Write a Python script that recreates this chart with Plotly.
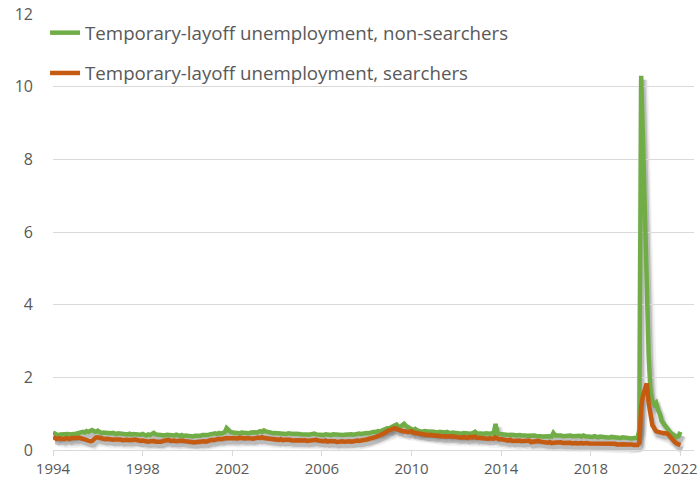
import pandas as pd
import plotly.graph_objects as go

# monthly, Jan 1994 .. Jan 2022 (percent of labor force)
months = pd.date_range("1994-01-01", "2022-01-01", freq="MS")

non_searchers = [
    0.48, 0.45, 0.42, 0.40, 0.43, 0.44, 0.42, 0.45, 0.44, 0.43, 0.45, 0.44,  # 1994
    0.44, 0.46, 0.45, 0.47, 0.50, 0.48, 0.52, 0.50, 0.54, 0.55, 0.52, 0.50,  # 1995
    0.53, 0.47, 0.46, 0.48, 0.47, 0.45, 0.44, 0.46, 0.47, 0.45, 0.44, 0.46,  # 1996
    0.45, 0.44, 0.46, 0.44, 0.43, 0.45, 0.42, 0.44, 0.43, 0.41, 0.43, 0.42,  # 1997
    0.44, 0.42, 0.40, 0.43, 0.41, 0.44, 0.47, 0.43, 0.42, 0.44, 0.41, 0.42,  # 1998
    0.40, 0.42, 0.41, 0.39, 0.41, 0.40, 0.42, 0.40, 0.39, 0.41, 0.38, 0.40,  # 1999
    0.39, 0.38, 0.40, 0.37, 0.39, 0.38, 0.40, 0.39, 0.41, 0.40, 0.42, 0.41,  # 2000
    0.43, 0.45, 0.44, 0.46, 0.44, 0.47, 0.45, 0.46, 0.49, 0.60, 0.54, 0.50,  # 2001
    0.48, 0.47, 0.49, 0.48, 0.46, 0.48, 0.47, 0.49, 0.48, 0.46, 0.48, 0.50,  # 2002
    0.49, 0.48, 0.50, 0.52, 0.50, 0.54, 0.51, 0.49, 0.48, 0.47, 0.46, 0.47,  # 2003
    0.46, 0.45, 0.46, 0.44, 0.45, 0.44, 0.46, 0.45, 0.43, 0.44, 0.45, 0.43,  # 2004
    0.44, 0.43, 0.42, 0.44, 0.43, 0.42, 0.44, 0.43, 0.45, 0.43, 0.42, 0.43,  # 2005
    0.42, 0.41, 0.43, 0.42, 0.40, 0.41, 0.43, 0.42, 0.41, 0.40, 0.42, 0.41,  # 2006
    0.42, 0.43, 0.41, 0.44, 0.43, 0.42, 0.44, 0.43, 0.45, 0.44, 0.46, 0.45,  # 2007
    0.47, 0.46, 0.48, 0.47, 0.50, 0.49, 0.52, 0.51, 0.54, 0.56, 0.58, 0.60,  # 2008
    0.60, 0.62, 0.64, 0.66, 0.70, 0.64, 0.63, 0.68, 0.72, 0.66, 0.62, 0.60,  # 2009
    0.57, 0.55, 0.58, 0.54, 0.52, 0.53, 0.50, 0.52, 0.51, 0.49, 0.50, 0.51,  # 2010
    0.49, 0.50, 0.48, 0.50, 0.49, 0.47, 0.48, 0.50, 0.47, 0.46, 0.48, 0.47,  # 2011
    0.46, 0.48, 0.46, 0.45, 0.47, 0.46, 0.44, 0.46, 0.45, 0.47, 0.50, 0.46,  # 2012
    0.45, 0.46, 0.44, 0.45, 0.46, 0.44, 0.45, 0.46, 0.45, 0.72, 0.47, 0.44,  # 2013
    0.43, 0.44, 0.42, 0.43, 0.41, 0.42, 0.43, 0.41, 0.40, 0.42, 0.41, 0.40,  # 2014
    0.41, 0.40, 0.39, 0.40, 0.38, 0.39, 0.40, 0.38, 0.39, 0.38, 0.37, 0.38,  # 2015
    0.39, 0.37, 0.38, 0.37, 0.47, 0.40, 0.41, 0.39, 0.40, 0.38, 0.39, 0.40,  # 2016
    0.39, 0.40, 0.38, 0.39, 0.37, 0.38, 0.39, 0.37, 0.40, 0.38, 0.37, 0.36,  # 2017
    0.37, 0.36, 0.38, 0.36, 0.35, 0.37, 0.36, 0.35, 0.37, 0.35, 0.34, 0.36,  # 2018
    0.35, 0.34, 0.36, 0.34, 0.33, 0.35, 0.34, 0.33, 0.35, 0.34, 0.32, 0.33,  # 2019
    0.34, 0.33, 0.55, 10.3, 8.5, 6.2, 4.3, 2.6, 1.6, 1.35, 1.25, 1.30,      # 2020
    1.10, 1.00, 0.80, 0.72, 0.65, 0.58, 0.50, 0.46, 0.43, 0.41, 0.36, 0.38,  # 2021
    0.50,                                                                    # 2022
]

searchers = [
    0.36, 0.34, 0.30, 0.32, 0.33, 0.31, 0.30, 0.33, 0.32, 0.30, 0.33, 0.32,  # 1994
    0.31, 0.33, 0.34, 0.32, 0.31, 0.30, 0.28, 0.26, 0.24, 0.25, 0.30, 0.34,  # 1995
    0.35, 0.33, 0.34, 0.32, 0.30, 0.31, 0.29, 0.30, 0.28, 0.29, 0.30, 0.28,  # 1996
    0.29, 0.27, 0.28, 0.30, 0.28, 0.27, 0.26, 0.28, 0.29, 0.27, 0.26, 0.25,  # 1997
    0.26, 0.24, 0.25, 0.23, 0.24, 0.26, 0.25, 0.23, 0.22, 0.24, 0.23, 0.25,  # 1998
    0.27, 0.26, 0.28, 0.25, 0.27, 0.26, 0.24, 0.25, 0.27, 0.26, 0.25, 0.24,  # 1999
    0.23, 0.24, 0.22, 0.23, 0.21, 0.22, 0.23, 0.21, 0.22, 0.24, 0.23, 0.25,  # 2000
    0.26, 0.28, 0.27, 0.29, 0.30, 0.31, 0.30, 0.32, 0.31, 0.33, 0.32, 0.31,  # 2001
    0.32, 0.33, 0.31, 0.32, 0.34, 0.33, 0.31, 0.32, 0.33, 0.34, 0.32, 0.31,  # 2002
    0.33, 0.32, 0.34, 0.33, 0.35, 0.33, 0.32, 0.31, 0.30, 0.31, 0.29, 0.30,  # 2003
    0.29, 0.28, 0.30, 0.27, 0.28, 0.29, 0.27, 0.28, 0.26, 0.27, 0.28, 0.26,  # 2004
    0.27, 0.26, 0.28, 0.27, 0.25, 0.26, 0.27, 0.25, 0.26, 0.28, 0.26, 0.25,  # 2005
    0.25, 0.24, 0.26, 0.23, 0.24, 0.25, 0.23, 0.24, 0.22, 0.23, 0.25, 0.24,  # 2006
    0.23, 0.24, 0.22, 0.24, 0.23, 0.25, 0.24, 0.26, 0.25, 0.27, 0.26, 0.28,  # 2007
    0.29, 0.30, 0.32, 0.33, 0.35, 0.36, 0.38, 0.40, 0.42, 0.45, 0.48, 0.52,  # 2008
    0.55, 0.57, 0.58, 0.60, 0.59, 0.56, 0.54, 0.52, 0.53, 0.51, 0.49, 0.50,  # 2009
    0.52, 0.48, 0.47, 0.48, 0.46, 0.45, 0.44, 0.42, 0.43, 0.41, 0.42, 0.40,  # 2010
    0.41, 0.39, 0.40, 0.38, 0.39, 0.37, 0.38, 0.36, 0.37, 0.38, 0.36, 0.37,  # 2011
    0.36, 0.35, 0.37, 0.34, 0.36, 0.35, 0.33, 0.36, 0.34, 0.35, 0.37, 0.33,  # 2012
    0.34, 0.33, 0.35, 0.32, 0.33, 0.31, 0.32, 0.30, 0.31, 0.35, 0.30, 0.29,  # 2013
    0.30, 0.28, 0.29, 0.27, 0.26, 0.28, 0.25, 0.26, 0.24, 0.25, 0.26, 0.24,  # 2014
    0.25, 0.23, 0.24, 0.26, 0.22, 0.23, 0.24, 0.22, 0.25, 0.23, 0.22, 0.23,  # 2015
    0.21, 0.20, 0.22, 0.19, 0.20, 0.21, 0.19, 0.20, 0.21, 0.19, 0.20, 0.18,  # 2016
    0.19, 0.20, 0.18, 0.20, 0.19, 0.18, 0.20, 0.19, 0.18, 0.20, 0.19, 0.18,  # 2017
    0.18, 0.19, 0.17, 0.18, 0.19, 0.17, 0.18, 0.16, 0.17, 0.18, 0.16, 0.17,  # 2018
    0.16, 0.17, 0.15, 0.16, 0.17, 0.15, 0.16, 0.15, 0.16, 0.14, 0.15, 0.14,  # 2019
    0.15, 0.14, 0.20, 1.20, 1.50, 1.70, 1.83, 1.30, 0.96, 0.68, 0.60, 0.52,  # 2020
    0.50, 0.48, 0.47, 0.46, 0.46, 0.45, 0.40, 0.33, 0.27, 0.22, 0.18, 0.15,  # 2021
    0.13,                                                                    # 2022
]

year_ticks = ["1994", "1998", "2002", "2006", "2010", "2014", "2018", "2022"]
y_ticks = [0, 2, 4, 6, 8, 10, 12]

names = ["Temporary-layoff unemployment, non-searchers",
         "Temporary-layoff unemployment, searchers"]
colors = ["#70ad47", "#c55a11"]
series = [non_searchers, searchers]

W, H = 700, 483
L, R, T, B = 53, 0, 14, 29
pw, ph = W - L - R, H - T - B
dx, dy = 2 / pw, 4 / ph   # shadow offset in paper units
xr = ["1994-01-01", "2022-08-10"]

fig = go.Figure()

# soft drop shadow (Excel style) drawn on an offset pair of hidden axes
for vals in series:
    for w, a in [(10, 0.05), (7, 0.09), (4.5, 0.15)]:
        fig.add_trace(go.Scatter(
            x=months, y=vals, xaxis="x", yaxis="y", mode="lines",
            line=dict(color=f"rgba(0,0,0,{a})", width=w),
            hoverinfo="skip", showlegend=False))

for name, vals, c in zip(names, series, colors):
    fig.add_trace(go.Scatter(
        x=months, y=vals, xaxis="x2", yaxis="y2", mode="lines", name=name,
        legendgroup=name, line=dict(color=c, width=4.5)))

fig.update_layout(
    width=W, height=H,
    margin=dict(l=L, r=R, t=T, b=B),
    plot_bgcolor="rgba(0,0,0,0)", paper_bgcolor="white",
    font=dict(family="Open Sans", color="#595959"),
    xaxis=dict(domain=[dx, 1], range=xr, visible=False, anchor="y"),
    yaxis=dict(domain=[0, 1 - dy], range=[0, 12], visible=False, anchor="x"),
    xaxis2=dict(
        domain=[0, 1 - dx], range=xr, anchor="y2",
        tickvals=[f"{y}-01-01" for y in year_ticks], ticktext=year_ticks,
        showgrid=False, zeroline=False,
        showline=True, linecolor="#d9d9d9", linewidth=1,
        ticks="outside", ticklen=5, tickcolor="#d9d9d9",
        ticklabeloverflow="allow",
        tickfont=dict(size=15, color="#595959")),
    yaxis2=dict(
        domain=[dy, 1], range=[0, 12], anchor="x2",
        tickvals=y_ticks, showgrid=True, gridcolor="#d9d9d9", gridwidth=1,
        zeroline=False, showline=False, ticks="",
        ticklabelstandoff=19,
        tickfont=dict(size=16, color="#595959")),
    legend=dict(
        x=-8 / pw, y=1.0, xanchor="left", yanchor="top",
        bgcolor="rgba(0,0,0,0)", tracegroupgap=13,
        font=dict(size=18.7, color="#595959"), itemwidth=30),
    showlegend=True,
)

fig.write_html("out.html", config={"displayModeBar": False},
               post_script="document.body.style.margin='0';")
